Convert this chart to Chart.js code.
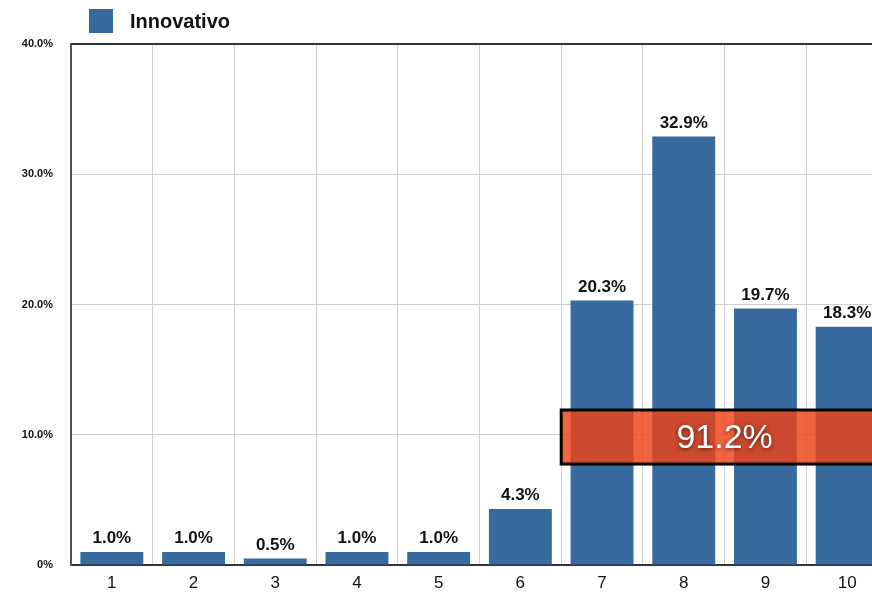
<!DOCTYPE html>
<html>
<head>
<meta charset="utf-8">
<script src="https://cdn.jsdelivr.net/npm/chart.js@4/dist/chart.umd.min.js"></script>
<style>
  html, body { margin: 0; padding: 0; background: #fff; overflow: hidden; }
  #wrap { position: relative; width: 888px; height: 594px; }
</style>
</head>
<body>
<div id="wrap"><canvas id="chart"></canvas></div>
<script>
// Punteggi 1..10 e quota di risposte per ciascuno
const categories = ["1", "2", "3", "4", "5", "6", "7", "8", "9", "10"];
const values = [1.0, 1.0, 0.5, 1.0, 1.0, 4.3, 20.3, 32.9, 19.7, 18.3];
const yTicks = [0, 10, 20, 30, 40];
const seriesName = "Innovativo";

// Fascia evidenziata: somma dei punteggi 7-10
const highlightFrom = 6;               // indice della categoria "7"
const highlightRange = [7.75, 11.9];   // in punti percentuali
const highlightText = values.slice(highlightFrom).reduce((a, b) => a + b, 0).toFixed(1) + "%";

const BLUE = "#386a9f";
const FONT = "'Liberation Sans', Arial, Helvetica, sans-serif";

const extras = {
  id: "extras",
  afterDatasetsDraw(chart) {
    const { ctx, chartArea, scales: { x, y } } = chart;
    ctx.save();

    // etichette sopra le barre
    ctx.fillStyle = "#111";
    ctx.font = "bold 17px " + FONT;
    ctx.textAlign = "center";
    ctx.textBaseline = "bottom";
    const meta = chart.getDatasetMeta(0);
    meta.data.forEach((bar, i) => {
      ctx.fillText(values[i].toFixed(1) + "%", bar.x, bar.y - 5);
    });

    // legenda
    ctx.fillStyle = BLUE;
    ctx.fillRect(89, 9, 24, 24);
    ctx.fillStyle = "#111";
    ctx.font = "bold 20px " + FONT;
    ctx.textAlign = "left";
    ctx.textBaseline = "middle";
    ctx.fillText(seriesName, 130, 22);

    // fascia rossa semitrasparente
    const step = x.getPixelForValue(1) - x.getPixelForValue(0);
    const left = x.getPixelForValue(highlightFrom) - step / 2;
    const right = chart.width + 10;
    const top = y.getPixelForValue(highlightRange[1]);
    const bottom = y.getPixelForValue(highlightRange[0]);
    ctx.fillStyle = "rgba(238, 66, 22, 0.82)";
    ctx.fillRect(left, top, right - left, bottom - top);
    ctx.lineWidth = 3;
    ctx.strokeStyle = "#000";
    ctx.strokeRect(left, top, right - left, bottom - top);

    ctx.font = "34px " + FONT;
    ctx.textAlign = "center";
    ctx.textBaseline = "middle";
    ctx.shadowColor = "rgba(0,0,0,0.6)";
    ctx.shadowBlur = 4;
    ctx.shadowOffsetY = 1;
    ctx.fillStyle = "#fff";
    ctx.fillText(highlightText, x.getPixelForValue(7.5), (top + bottom) / 2 + 2);
    ctx.restore();

    // bordo superiore dell'area del grafico
    ctx.save();
    ctx.strokeStyle = "#333";
    ctx.lineWidth = 2;
    ctx.beginPath();
    ctx.moveTo(chartArea.left, chartArea.top);
    ctx.lineTo(chartArea.right, chartArea.top);
    ctx.stroke();
    ctx.restore();
  },
};

new Chart(document.getElementById("chart"), {
  type: "bar",
  data: {
    labels: categories,
    datasets: [{
      label: seriesName,
      data: values,
      backgroundColor: BLUE,
      barPercentage: 0.77,
      categoryPercentage: 1.0,
    }],
  },
  options: {
    responsive: true,
    maintainAspectRatio: false,
    animation: false,
    layout: { padding: { top: 44, right: 0, left: 0, bottom: 0 } },
    plugins: { legend: { display: false }, tooltip: { enabled: false } },
    scales: {
      x: {
        grid: { offset: true, color: "#cfcfcf", drawTicks: false },
        border: { color: "#333", width: 2 },
        ticks: { color: "#111", font: { family: FONT, size: 17 }, padding: 8 },
        afterFit(scale) { scale.height = 29; },
      },
      y: {
        min: 0,
        max: 40,
        afterBuildTicks(scale) { scale.ticks = yTicks.map((v) => ({ value: v })); },
        grid: { color: "#cfcfcf", drawTicks: false },
        border: { color: "#555", width: 2 },
        ticks: {
          color: "#111",
          font: { family: FONT, size: 11, weight: "bold" },
          padding: 18,
          callback: (v) => (v === 0 ? "0%" : v.toFixed(1) + "%"),
        },
        afterFit(scale) { scale.width = 71; },
      },
    },
  },
  plugins: [extras],
});
</script>
</body>
</html>
